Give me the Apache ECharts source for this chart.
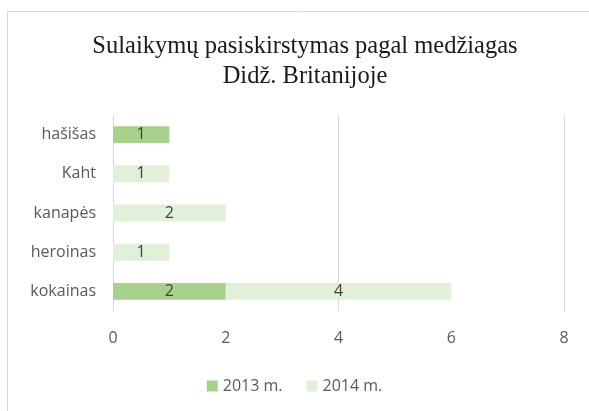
<!DOCTYPE html>
<html>
<head>
<meta charset="utf-8">
<script src="https://cdn.jsdelivr.net/npm/echarts@6/dist/echarts.min.js"></script>
<style>
    html, body { margin: 0; padding: 0; background: #fff; }
    #chart { width: 589px; height: 411px; }
</style>
</head>
<body>
<div id="chart"></div>
<script>
const categories = ['hašišas', 'Kaht', 'kanapės', 'heroinas', 'kokainas'];
const values2013 = [1, '-', '-', '-', 2];
const values2014 = ['-', 1, 2, 1, 4];
const seriesNames = ['2013 m.', '2014 m.'];
const xTicks = [0, 2, 4, 6, 8];

const sans = '"Open Sans", "Noto Sans", sans-serif';

let chart = echarts.init(document.getElementById('chart'));

let option = {
    animation: false,
    title: {
        text: 'Sulaikymų pasiskirstymas pagal medžiagas\nDidž. Britanijoje',
        left: 300,
        textAlign: 'center',
        top: 27,
        textStyle: {
            fontFamily: '"Liberation Serif", "DejaVu Serif", serif',
            fontWeight: 'normal',
            fontSize: 24.5,
            lineHeight: 30,
            color: '#1a1a1a'
        }
    },
    legend: {
        data: seriesNames,
        left: 'center',
        top: 373,
        itemWidth: 11,
        itemHeight: 11,
        itemGap: 24,
        icon: 'rect',
        textStyle: { fontFamily: sans, fontSize: 16, color: '#595959' }
    },
    grid: { left: 113, right: 25, top: 115, bottom: 100 },
    xAxis: [
        {
            type: 'value',
            min: xTicks[0],
            max: xTicks[xTicks.length - 1],
            interval: 2,
            axisLine: { show: false },
            axisTick: { show: false },
            splitLine: { show: false },
            axisLabel: { margin: 19, fontFamily: sans, fontSize: 16, color: '#595959' }
        },
        {
            type: 'value',
            min: 0,
            max: 8,
            interval: 4,
            position: 'bottom',
            axisLine: { show: false },
            axisTick: { show: false },
            axisLabel: { show: false },
            splitLine: { show: true, lineStyle: { color: '#d9d9d9', width: 1 } }
        }
    ],
    yAxis: {
        type: 'category',
        data: categories,
        inverse: true,
        axisLine: { show: true, lineStyle: { color: '#d9d9d9' } },
        axisTick: { show: false },
        axisLabel: { margin: 17, fontFamily: sans, fontSize: 16, color: '#595959' }
    },
    series: [
        {
            name: seriesNames[0],
            type: 'bar',
            stack: 'total',
            barWidth: '43%',
            itemStyle: { color: '#a9d18e' },
            label: { show: true, position: 'inside', fontFamily: sans, fontSize: 16, color: '#404040' },
            data: values2013
        },
        {
            name: seriesNames[1],
            type: 'bar',
            stack: 'total',
            barWidth: '43%',
            itemStyle: { color: '#e2f0d9' },
            label: { show: true, position: 'inside', fontFamily: sans, fontSize: 16, color: '#404040' },
            data: values2014
        }
    ],
    graphic: [
        {
            type: 'polyline',
            silent: true,
            shape: { points: [[7.5, 411], [7.5, 11.5], [589, 11.5]] },
            style: { stroke: '#d9d9d9', fill: null, lineWidth: 1 }
        }
    ]
};

chart.setOption(option);
</script>
</body>
</html>
